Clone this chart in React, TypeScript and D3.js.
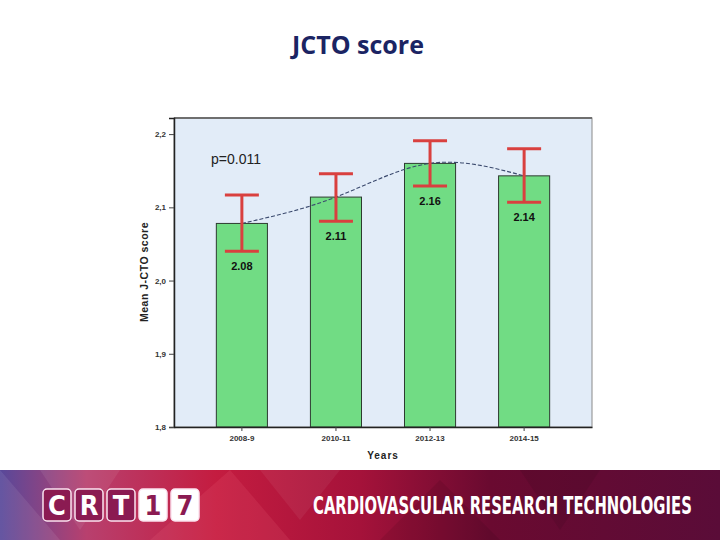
import { useEffect, useRef } from 'react';
import * as d3 from 'd3';

const years = ['2008-9', '2010-11', '2012-13', '2014-15'];
const means = [2.078, 2.114, 2.16, 2.143];
const ciLow = [2.04, 2.081, 2.129, 2.107];
const ciHigh = [2.117, 2.146, 2.191, 2.18];
const valueLabels = ['2.08', '2.11', '2.16', '2.14'];
const yTicks = [1.8, 1.9, 2.0, 2.1, 2.2];
const logoChars = ['C', 'R', 'T', '1', '7'];

const App = () => {
  const ref = useRef<SVGSVGElement>(null);

  useEffect(() => {
    document.body.style.margin = '0';
    if (!ref.current) return;
    const svg = d3.select(ref.current);
    svg.selectAll('*').remove();

    const plot = { left: 174, right: 592, top: 118, bottom: 427 };

    // Title
    svg.append('text')
      .attr('x', 358).attr('y', 54)
      .attr('text-anchor', 'middle')
      .style('font-family', '"Open Sans", sans-serif')
      .style('font-weight', 700)
      .style('font-size', '25px')
      .attr('fill', '#1b2463')
      .text('JCTO score');

    const x = d3.scaleBand()
      .domain(years)
      .range([plot.left, plot.right])
      .paddingInner(0.457)
      .paddingOuter(0.45);

    const y = d3.scaleLinear()
      .domain([1.8, 2.222])
      .range([plot.bottom, plot.top]);

    // plot background
    svg.append('rect')
      .attr('x', plot.left).attr('y', plot.top)
      .attr('width', plot.right - plot.left)
      .attr('height', plot.bottom - plot.top)
      .attr('fill', '#e2ecf8')
      .attr('stroke', '#8a8a8a')
      .attr('stroke-width', 1);
    svg.append('line')
      .attr('x1', plot.left).attr('x2', plot.right)
      .attr('y1', plot.top).attr('y2', plot.top)
      .attr('stroke', '#6f6f6f').attr('stroke-width', 2);

    // bars
    svg.selectAll('.bar')
      .data(years)
      .enter()
      .append('rect')
      .attr('x', d => x(d) || 0)
      .attr('y', (d, i) => y(means[i]))
      .attr('width', x.bandwidth())
      .attr('height', (d, i) => y(1.8) - y(means[i]))
      .attr('fill', '#71dc84')
      .attr('stroke', '#2d3b30')
      .attr('stroke-width', 1);

    // axes
    const yAxis = svg.append('g')
      .attr('transform', `translate(${plot.left},0)`)
      .call(d3.axisLeft(y).tickValues(yTicks).tickSize(5).tickFormat(d => d3.format('.1f')(d as number).replace('.', ',')));
    yAxis.select('.domain').attr('stroke', '#222').attr('stroke-width', 1.5);
    yAxis.selectAll('line').attr('stroke', '#444');
    yAxis.selectAll('text')
      .style('font-family', '"Liberation Sans", Arial, sans-serif')
      .style('font-size', '8px')
      .style('font-weight', 700)
      .attr('fill', '#333');

    const xAxis = svg.append('g')
      .attr('transform', `translate(0,${plot.bottom})`)
      .call(d3.axisBottom(x).tickSize(4).tickSizeOuter(0));
    xAxis.select('.domain').attr('stroke', '#222').attr('stroke-width', 1.5);
    xAxis.selectAll('line').attr('stroke', '#444');
    xAxis.selectAll('text')
      .attr('dy', '0.9em')
      .style('font-family', '"Liberation Sans", Arial, sans-serif')
      .style('font-size', '8px')
      .style('font-weight', 700)
      .attr('fill', '#333');

    // fit line
    const line = d3.line<number>()
      .x((d, i) => (x(years[i]) || 0) + x.bandwidth() / 2)
      .y(d => y(d))
      .curve(d3.curveNatural);
    svg.append('path')
      .datum(means)
      .attr('fill', 'none')
      .attr('stroke', '#3b4a6e')
      .attr('stroke-width', 1.1)
      .attr('stroke-dasharray', '4,2')
      .attr('d', line);

    // error bars
    const eb = svg.selectAll('.err')
      .data(years)
      .enter()
      .append('g')
      .attr('transform', d => `translate(${(x(d) || 0) + x.bandwidth() / 2},0)`);
    const cap = 17;
    eb.append('line')
      .attr('x1', 0).attr('x2', 0)
      .attr('y1', (d, i) => y(ciHigh[i]))
      .attr('y2', (d, i) => y(ciLow[i]))
      .attr('stroke', '#d9403f').attr('stroke-width', 3);
    eb.append('line')
      .attr('x1', -cap).attr('x2', cap)
      .attr('y1', (d, i) => y(ciHigh[i]))
      .attr('y2', (d, i) => y(ciHigh[i]))
      .attr('stroke', '#d9403f').attr('stroke-width', 3);
    eb.append('line')
      .attr('x1', -cap).attr('x2', cap)
      .attr('y1', (d, i) => y(ciLow[i]))
      .attr('y2', (d, i) => y(ciLow[i]))
      .attr('stroke', '#d9403f').attr('stroke-width', 3);
    eb.append('text')
      .attr('x', 0)
      .attr('y', (d, i) => y(ciLow[i]) + 19)
      .attr('text-anchor', 'middle')
      .style('font-family', '"Liberation Sans", Arial, sans-serif')
      .style('font-size', '11px')
      .style('font-weight', 700)
      .attr('fill', '#111')
      .text((d, i) => valueLabels[i]);

    // p value
    svg.append('text')
      .attr('x', 211).attr('y', 164)
      .style('font-family', '"Liberation Sans", Arial, sans-serif')
      .style('font-size', '14px')
      .attr('fill', '#222')
      .text('p=0.011');

    // axis titles
    svg.append('text')
      .attr('transform', `translate(148,272) rotate(-90)`)
      .attr('text-anchor', 'middle')
      .style('font-family', '"Liberation Sans", Arial, sans-serif')
      .style('font-size', '10.5px')
      .style('font-weight', 700)
      .style('letter-spacing', '0.5px')
      .attr('fill', '#222')
      .text('Mean J-CTO score');
    svg.append('text')
      .attr('x', 383).attr('y', 459)
      .attr('text-anchor', 'middle')
      .style('font-family', '"Liberation Sans", Arial, sans-serif')
      .style('font-size', '10px')
      .style('font-weight', 700)
      .style('letter-spacing', '1px')
      .attr('fill', '#222')
      .text('Years');

    // footer banner
    const defs = svg.append('defs');
    const grad = defs.append('linearGradient').attr('id', 'banner').attr('x1', '0%').attr('x2', '100%');
    [['0%', '#58489a'], ['12%', '#b8406e'], ['30%', '#c41c40'], ['50%', '#a5123a'], ['68%', '#6a0a30'], ['100%', '#5a0c38']]
      .forEach(([o, c]) => grad.append('stop').attr('offset', o).attr('stop-color', c));
    const banner = svg.append('g');
    banner.append('rect')
      .attr('x', 0).attr('y', 470).attr('width', 720).attr('height', 70)
      .attr('fill', 'url(#banner)');
    const tris = [
      [[0, 470], [60, 540], [0, 540], '#ffffff', 0.08],
      [[40, 470], [120, 470], [80, 530], '#ffffff', 0.07],
      [[150, 540], [230, 470], [290, 540], '#ff8090', 0.12],
      [[260, 470], [340, 470], [300, 520], '#ffffff', 0.06],
      [[380, 540], [440, 480], [500, 540], '#000000', 0.08],
      [[520, 470], [600, 470], [560, 530], '#000000', 0.08],
    ];
    tris.forEach(t => {
      banner.append('polygon')
        .attr('points', [t[0], t[1], t[2]].map(p => (p as number[]).join(',')).join(' '))
        .attr('fill', t[3] as string)
        .attr('opacity', t[4] as number);
    });

    const logo = banner.selectAll('.logo')
      .data(logoChars)
      .enter()
      .append('g')
      .attr('transform', (d, i) => `translate(${43 + i * 32},489)`);
    logo.append('rect')
      .attr('width', 28).attr('height', 32).attr('rx', 4)
      .attr('fill', (d, i) => (i < 3 ? '#8b1b52' : '#ffffff'))
      .attr('stroke', '#fbe3f0').attr('stroke-width', 1.5);
    logo.append('text')
      .attr('x', 14).attr('y', 26)
      .attr('text-anchor', 'middle')
      .style('font-family', '"DejaVu Sans", sans-serif')
      .style('font-weight', 700)
      .style('font-stretch', 'condensed')
      .style('font-size', '27px')
      .attr('fill', (d, i) => (i < 3 ? '#ffffff' : '#8b1b52'))
      .text(d => d);

    // banner title, squeezed horizontally to fit its box
    const bt = banner.append('text')
      .attr('x', 0).attr('y', 0)
      .style('font-family', '"DejaVu Sans", sans-serif')
      .style('font-weight', 700)
      .style('font-stretch', 'condensed')
      .style('font-size', '24px')
      .attr('fill', '#ffffff')
      .text('CARDIOVASCULAR RESEARCH TECHNOLOGIES');
    const natural = (bt.node() as SVGTextElement).getComputedTextLength() || 379;
    bt.attr('transform', `translate(313,514) scale(${379 / natural},1)`);
  }, []);

  return (
    <svg ref={ref} width={720} height={540} style={{ display: 'block', background: '#ffffff' }} />
  );
};

export default App;
